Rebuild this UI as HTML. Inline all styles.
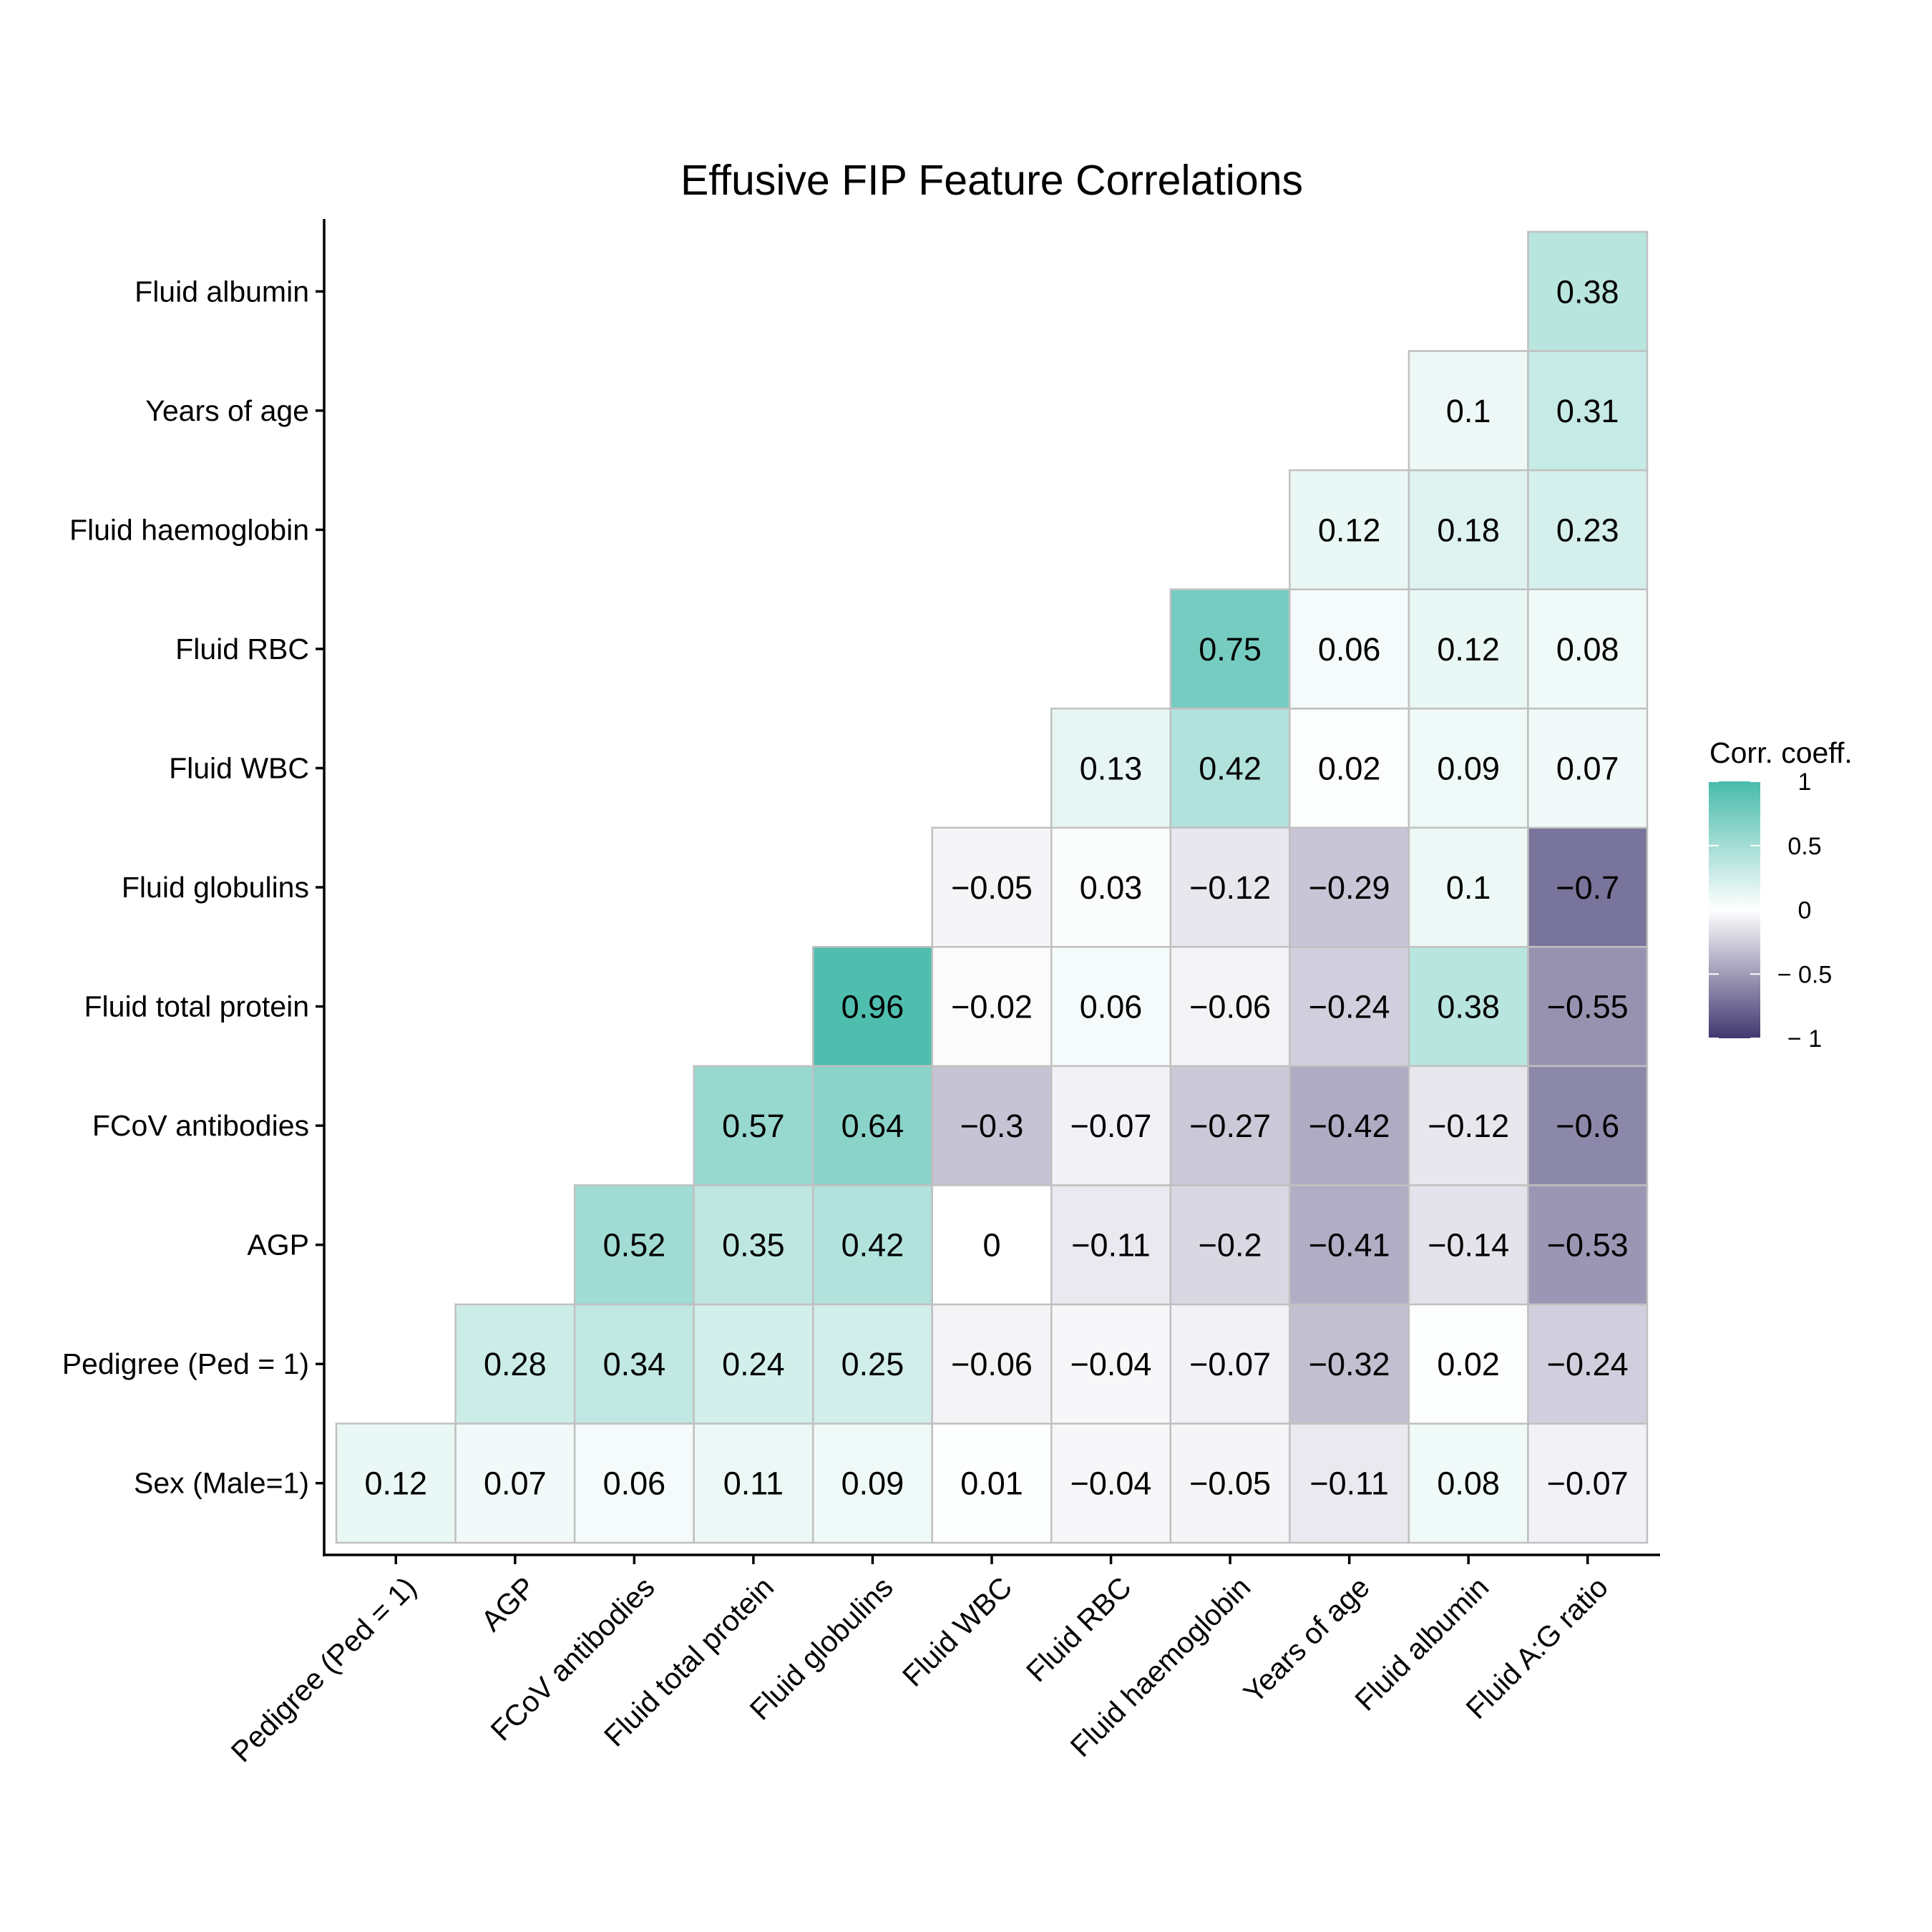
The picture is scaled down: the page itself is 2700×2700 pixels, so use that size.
<!DOCTYPE html>
<html><head><meta charset="utf-8"><style>html,body{margin:0;padding:0;background:#fff}svg{display:block}text{font-family:"Liberation Sans",Arial,sans-serif}</style></head>
<body>
<svg id="chart" width="2700" height="2700" viewBox="0 0 2700 2700" xmlns="http://www.w3.org/2000/svg">
<rect width="2700" height="2700" fill="#fff"/>
<text x="1386" y="272" font-size="59" text-anchor="middle">Effusive FIP Feature Correlations</text>
<g id="tiles"></g>
<g id="axes"></g>
<g id="legend">
<defs><linearGradient id="grad" x1="0" y1="0" x2="0" y2="1">
<stop offset="0" stop-color="rgb(72,187,171)"/><stop offset="0.5" stop-color="#fff"/><stop offset="1" stop-color="rgb(64,56,112)"/></linearGradient></defs>
<text x="2389" y="1066" font-size="41">Corr. coeff.</text>
<rect x="2388" y="1092" width="72" height="359" fill="url(#grad)"/>
</g>
</svg>
<script>
const xCats = ["Pedigree (Ped = 1)","AGP","FCoV antibodies","Fluid total protein","Fluid globulins","Fluid WBC","Fluid RBC","Fluid haemoglobin","Years of age","Fluid albumin","Fluid A:G ratio"];
const yCats = ["Sex (Male=1)","Pedigree (Ped = 1)","AGP","FCoV antibodies","Fluid total protein","Fluid globulins","Fluid WBC","Fluid RBC","Fluid haemoglobin","Years of age","Fluid albumin"];
const rowSex = [0.12,0.07,0.06,0.11,0.09,0.01,-0.04,-0.05,-0.11,0.08,-0.07];
const rowPedigree = [0.28,0.34,0.24,0.25,-0.06,-0.04,-0.07,-0.32,0.02,-0.24];
const rowAGP = [0.52,0.35,0.42,0,-0.11,-0.2,-0.41,-0.14,-0.53];
const rowFCoV = [0.57,0.64,-0.3,-0.07,-0.27,-0.42,-0.12,-0.6];
const rowTotalProtein = [0.96,-0.02,0.06,-0.06,-0.24,0.38,-0.55];
const rowGlobulins = [-0.05,0.03,-0.12,-0.29,0.1,-0.7];
const rowWBC = [0.13,0.42,0.02,0.09,0.07];
const rowRBC = [0.75,0.06,0.12,0.08];
const rowHaemoglobin = [0.12,0.18,0.23];
const rowYears = [0.1,0.31];
const rowAlbumin = [0.38];
const legendTicks = [1,0.5,0,-0.5,-1];
const rows = [rowSex,rowPedigree,rowAGP,rowFCoV,rowTotalProtein,rowGlobulins,rowWBC,rowRBC,rowHaemoglobin,rowYears,rowAlbumin];

const NS="http://www.w3.org/2000/svg";
const gx0=470,gx1=2302,gy0=324,gy1=2156;
const cw=(gx1-gx0)/xCats.length, ch=(gy1-gy0)/yCats.length;
const xPos=i=>gx0+i*cw;
const yPos=j=>gy1-(j+1)*ch;
function color(v){
  let c = v>=0 ? [72,187,171] : [64,56,112]; const a=Math.abs(v);
  return `rgb(${Math.round(255+(c[0]-255)*a)},${Math.round(255+(c[1]-255)*a)},${Math.round(255+(c[2]-255)*a)})`;
}
function fmt(v){return v<0?"\u2212"+String(-v):String(v);}
function mk(tag,attrs,parent){const e=document.createElementNS(NS,tag);for(const k in attrs)e.setAttribute(k,attrs[k]);parent.appendChild(e);return e;}
const tiles=document.getElementById('tiles');
rows.forEach((row,j)=>{
  row.forEach((v,k)=>{
    const i=j+k;
    const r=mk('rect',{x:xPos(i),y:yPos(j),width:cw,height:ch,fill:color(v),stroke:'#c0c0c0','stroke-width':2.5},tiles);
    
    
    const t=mk('text',{x:xPos(i)+cw/2,y:yPos(j)+ch/2+16,'font-size':45,'text-anchor':'middle',fill:'#000'},tiles);
    
    
    t.textContent=fmt(v);
  });
});
const axes=document.getElementById('axes');
const ax=mk('line',{x1:453,y1:306,x2:453,y2:2175,stroke:'#000','stroke-width':3.5},axes);


const axx=mk('line',{x1:451,y1:2173,x2:2320,y2:2173,stroke:'#000','stroke-width':3.5},axes);


yCats.forEach((c,j)=>{
  const cy=yPos(j)+ch/2;
  const tk=mk('line',{x1:441,y1:cy,x2:453,y2:cy,stroke:'#000','stroke-width':3.5},axes);
  
  
  const t=mk('text',{x:432,y:cy+14,'font-size':41,'text-anchor':'end'},axes);
  
  
  t.textContent=c;
});
xCats.forEach((c,i)=>{
  const cx=xPos(i)+cw/2;
  const tk=mk('line',{x1:cx,y1:2173,x2:cx,y2:2186,stroke:'#000','stroke-width':3.5},axes);
  
  
  const t=mk('text',{x:0,y:0,'font-size':41,'text-anchor':'end',transform:`translate(${cx+10},${2200}) rotate(-45)`,dy:'0.72em'},axes);
  
  
  t.textContent=c;
});
const leg=document.getElementById('legend');
legendTicks.forEach(v=>{
  const y=1092+(1-v)/2*359;
  const l1=mk('line',{x1:2388,y1:y,x2:2402,y2:y,stroke:'#fff','stroke-width':2},leg);
  
  
  const l2=mk('line',{x1:2446,y1:y,x2:2460,y2:y,stroke:'#fff','stroke-width':2},leg);
  
  
  const t=mk('text',{x:2522,y:y+12,'font-size':34,'text-anchor':'middle'},leg);
  
  
  t.textContent = v<0 ? "\u2212 "+String(-v) : String(v);
});
</script>
</body></html>
